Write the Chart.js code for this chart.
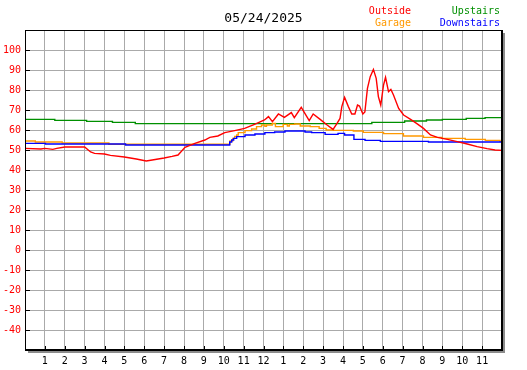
<!DOCTYPE html>
<html>
<head>
<meta charset="utf-8">
<title>05/24/2025</title>
<script src="https://cdn.jsdelivr.net/npm/chart.js@4/dist/chart.umd.min.js"></script>
<style>
    body { margin: 0; background: #fff; }
    canvas { display: block; }
</style>
</head>
<body>
<canvas id="tempChart" width="527" height="370"></canvas>
<script>
//================================ Data =================================

const chartTitle = '05/24/2025';

const outsideHours = [0, 0.8, 1.0, 1.4, 1.6, 2.0, 3.0, 3.3, 3.5, 4.0, 4.3, 5.0, 5.6, 6.1, 6.4, 7.0, 7.4, 7.7,
    8.05, 8.55, 9.05, 9.3, 9.7, 10.05, 10.55, 11.05, 11.55, 12.05, 12.25, 12.45, 12.75, 13.05, 13.4, 13.55,
    13.9, 14.3, 14.5, 14.85, 15.2, 15.5, 15.7, 15.85, 15.94, 16.08, 16.27, 16.44, 16.6, 16.73, 16.83, 17.0,
    17.1, 17.23, 17.37, 17.53, 17.67, 17.78, 17.9, 18.04, 18.14, 18.29, 18.41, 18.54, 18.8, 19.05, 19.4,
    19.7, 20.05, 20.4, 20.75, 21.25, 21.75, 22.25, 22.75, 23.25, 23.65, 24];
const outsideTemps = [50.8, 50.5, 50.8, 50.3, 50.8, 51.5, 51.5, 49, 48.3, 48, 47.3, 46.5, 45.5, 44.5, 45, 46, 46.8, 47.5,
    51.3, 53.3, 55, 56.3, 57, 58.7, 59.7, 60.8, 62.8, 65, 66.7, 64.2, 68, 66.3, 68.7, 66.2,
    71.3, 64.7, 68, 65.3, 62.5, 60.3, 63.3, 65.8, 71.7, 76.3, 71.7, 68, 68, 72.5, 72, 68,
    69, 80.8, 86.7, 90.3, 85.8, 76.7, 72.5, 82.5, 86.3, 79.2, 80.3, 77.5, 70.8, 67.5, 65.3,
    63.3, 60.8, 57.5, 56.3, 55.3, 54.2, 53, 51.7, 50.7, 50, 49.8];

const garageHours = [0, 0.52, 1.87, 4.22, 10.31, 10.45, 10.55, 10.65, 10.73, 11.07, 11.4, 11.65, 11.9, 12.07,
    12.15, 12.44, 12.6, 12.99, 13.2, 13.3, 13.57, 13.85, 14.35, 14.8, 15.15, 15.52, 16.52, 17.02, 18.04,
    19.04, 20.05, 20.98, 22.15, 23.16, 23.9, 24];
const garageTemps = [54.5, 54, 53.5, 52.9, 54.5, 55.8, 56.8, 57.5, 58.7, 59.7, 60.5, 61.7, 62.5, 61.8,
    62.5, 63.3, 61.7, 62.8, 62, 62.8, 63, 62, 61.7, 60.8, 60, 59.8, 59.5, 58.8, 58.2,
    57, 56.3, 55.8, 55.3, 54.8, 54.3, 54.3];

const upstairsHours = [0, 1.5, 3.1, 4.4, 5.55, 17.45, 19.1, 20.2, 21.0, 22.2, 23.15, 24];
const upstairsTemps = [65.3, 64.8, 64.3, 63.8, 63.2, 63.8, 64.5, 65, 65.3, 65.8, 66.2, 66.2];

const downstairsHours = [0, 1.03, 5.06, 10.3, 10.4, 10.5, 10.65, 11.07, 11.57, 12.07, 12.56, 13.08, 14.09,
    14.42, 15.1, 15.75, 16.08, 16.55, 17.11, 17.88, 20.3, 24];
const downstairsTemps = [53.3, 53.0, 52.5, 54, 55, 55.8, 56.7, 57.5, 58, 58.7, 59, 59.5, 59,
    58.7, 57.8, 58.3, 57.5, 55.3, 54.8, 54.3, 54.0, 54.0];

const hourLabels = ['', '1', '2', '3', '4', '5', '6', '7', '8', '9', '10', '11', '12',
    '1', '2', '3', '4', '5', '6', '7', '8', '9', '10', '11', ''];

const yMin = -50;
const yMax = 110;

//================================ Chart =================================

const MONO = "'DejaVu Sans Mono', monospace";

function toPoints(hours, temps) {
    return hours.map((h, i) => ({ x: h, y: temps[i] }));
}

// frame, ticks, title and the little text legend
const framePlugin = {
    id: 'frame',
    afterDraw(chart) {
        const ctx = chart.ctx;
        const area = chart.chartArea;
        const xs = chart.scales.x;
        const ys = chart.scales.y;
        ctx.save();

        // shadow
        ctx.fillStyle = '#8c8c8c';
        ctx.fillRect(area.right + 1, area.top + 3, 2, area.bottom - area.top);
        ctx.fillRect(area.left + 3, area.bottom + 1, area.right - area.left, 2);

        // border
        ctx.fillStyle = '#000';
        ctx.fillRect(area.left, area.top, 1, area.bottom - area.top);
        ctx.fillRect(area.left, area.top, area.right - area.left, 1);
        ctx.fillRect(area.right - 1, area.top, 2, area.bottom - area.top + 1);
        ctx.fillRect(area.left, area.bottom - 1, area.right - area.left + 1, 2);

        // tick marks
        for (let v = yMin + 10; v < yMax; v += 10) {
            const y = Math.round(ys.getPixelForValue(v));
            ctx.fillRect(area.left, y, 5, 1);
        }
        for (let h = 1; h < 24; h++) {
            const x = Math.round(xs.getPixelForValue(h));
            ctx.fillRect(x, area.bottom - 4, 1, 4);
        }

        // title
        ctx.textBaseline = 'middle';
        ctx.textAlign = 'center';
        ctx.font = '13px ' + MONO;
        ctx.fillStyle = '#000';
        ctx.fillText(chartTitle, (area.left + area.right) / 2, 19);

        // legend
        ctx.font = '10px ' + MONO;
        ctx.textAlign = 'right';
        chart.data.datasets.forEach(ds => {
            ctx.fillStyle = ds.borderColor;
            ctx.fillText(ds.label, ds.legendX, ds.legendY);
        });

        ctx.restore();
    }
};

const canvas = document.getElementById('tempChart');

new Chart(canvas.getContext('2d'), {
    type: 'line',
    data: {
        datasets: [
            {
                label: 'Outside',
                data: toPoints(outsideHours, outsideTemps),
                borderColor: '#ff0000',
                legendX: 411, legendY: 11
            },
            {
                label: 'Downstairs',
                data: toPoints(downstairsHours, downstairsTemps),
                borderColor: '#0000ff',
                stepped: true,
                legendX: 500, legendY: 23
            },
            {
                label: 'Garage',
                data: toPoints(garageHours, garageTemps),
                borderColor: '#ff9900',
                stepped: true,
                legendX: 411, legendY: 23
            },
            {
                label: 'Upstairs',
                data: toPoints(upstairsHours, upstairsTemps),
                borderColor: '#009000',
                stepped: true,
                legendX: 500, legendY: 11
            }
        ]
    },
    options: {
        responsive: false,
        animation: false,
        devicePixelRatio: 1,
        layout: {
            padding: { top: 30, right: 25, left: 0, bottom: 0 }
        },
        elements: {
            point: { radius: 0 },
            line: { borderWidth: 1.4, tension: 0, fill: false }
        },
        plugins: {
            legend: { display: false },
            title: { display: false },
            tooltip: { enabled: false }
        },
        scales: {
            x: {
                type: 'linear',
                min: 0,
                max: 24,
                afterFit(scale) { scale.height = 20; },
                grid: { color: '#aaaaaa', drawTicks: false },
                border: { display: false },
                ticks: {
                    stepSize: 1,
                    autoSkip: false,
                    maxRotation: 0,
                    padding: 5,
                    color: '#000',
                    font: { family: MONO, size: 10 },
                    callback: v => hourLabels[v] ?? ''
                }
            },
            y: {
                min: yMin,
                max: yMax,
                afterFit(scale) { scale.width = 25; },
                grid: { color: '#aaaaaa', drawTicks: false },
                border: { display: false },
                ticks: {
                    stepSize: 10,
                    padding: 4,
                    color: '#ff0000',
                    font: { family: MONO, size: 10 },
                    callback: v => (v === yMin || v === yMax) ? '' : v
                }
            }
        }
    },
    plugins: [framePlugin]
});
</script>
</body>
</html>
